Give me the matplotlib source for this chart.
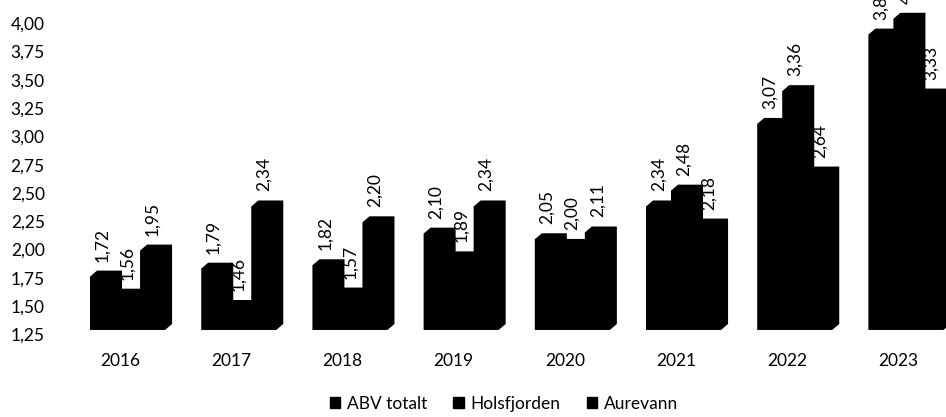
import numpy as np
import matplotlib.pyplot as plt
from matplotlib.patches import Patch
from matplotlib.ticker import FuncFormatter

# data
aar = ['2016', '2017', '2018', '2019', '2020', '2021', '2022', '2023']
serier = ['ABV totalt', 'Holsfjorden', 'Aurevann']
abv_totalt = [1.72, 1.79, 1.82, 2.10, 2.05, 2.34, 3.07, 3.86]
holsfjorden = [1.56, 1.46, 1.57, 1.89, 2.00, 2.48, 3.36, 4.00]
aurevann = [1.95, 2.34, 2.20, 2.34, 2.11, 2.18, 2.64, 3.33]
yticks = np.arange(1.25, 4.01, 0.25)

plt.rcParams['font.family'] = ['Lato', 'DejaVu Sans']
fs = 12.5

fig = plt.figure(figsize=(9.46, 4.17), dpi=100)
ax = fig.add_axes([60 / 946, 72 / 417, 886 / 946, 345 / 417])

# 3D-liknende søyler (front + dybde)
w = 0.225       # bredde på forside
dx = 0.063      # dybde i x
dy = 0.053      # dybde i y
venstre = -0.27  # forside venstre kant rel. til tick
bunn = 1.288
topp_off = 0.04

x = np.arange(len(aar))
for i, verdier in enumerate([abv_totalt, holsfjorden, aurevann]):
    for j, v in enumerate(verdier):
        x0 = x[j] + venstre + i * w
        t = v + topp_off
        px = [x0, x0, x0 + dx, x0 + w + dx, x0 + w + dx, x0 + w]
        py = [bunn, t, t + dy, t + dy, bunn + dy, bunn]
        ax.fill(px, py, color='black', lw=0)
        ax.annotate(f'{v:.2f}'.replace('.', ','), (x0 + w / 2, t + dy),
                    xytext=(0, 6.5), textcoords='offset points',
                    rotation=90, ha='center', va='bottom', fontsize=fs,
                    annotation_clip=False)

ax.set_xlim(-0.54, 7.428)
ax.set_ylim(1.155, 4.206)
ax.set_xticks(x)
ax.set_xticklabels(aar, fontsize=fs)
ax.set_yticks(yticks)
ax.yaxis.set_major_formatter(FuncFormatter(lambda v, p: f'{v:.2f}'.replace('.', ',')))
ax.tick_params(axis='y', length=0, pad=11, labelsize=fs)
ax.tick_params(axis='x', length=0, pad=6)
for s in ax.spines.values():
    s.set_visible(False)

handles = [Patch(color='black', label=s) for s in serier]
fig.legend(handles=handles, loc='center', bbox_to_anchor=(504 / 946, 13 / 417),
           ncol=3, frameon=False, fontsize=fs, handlelength=0.6, handleheight=0.6,
           handletextpad=0.4, columnspacing=1.5)

fig.savefig('out.png', dpi=100)
